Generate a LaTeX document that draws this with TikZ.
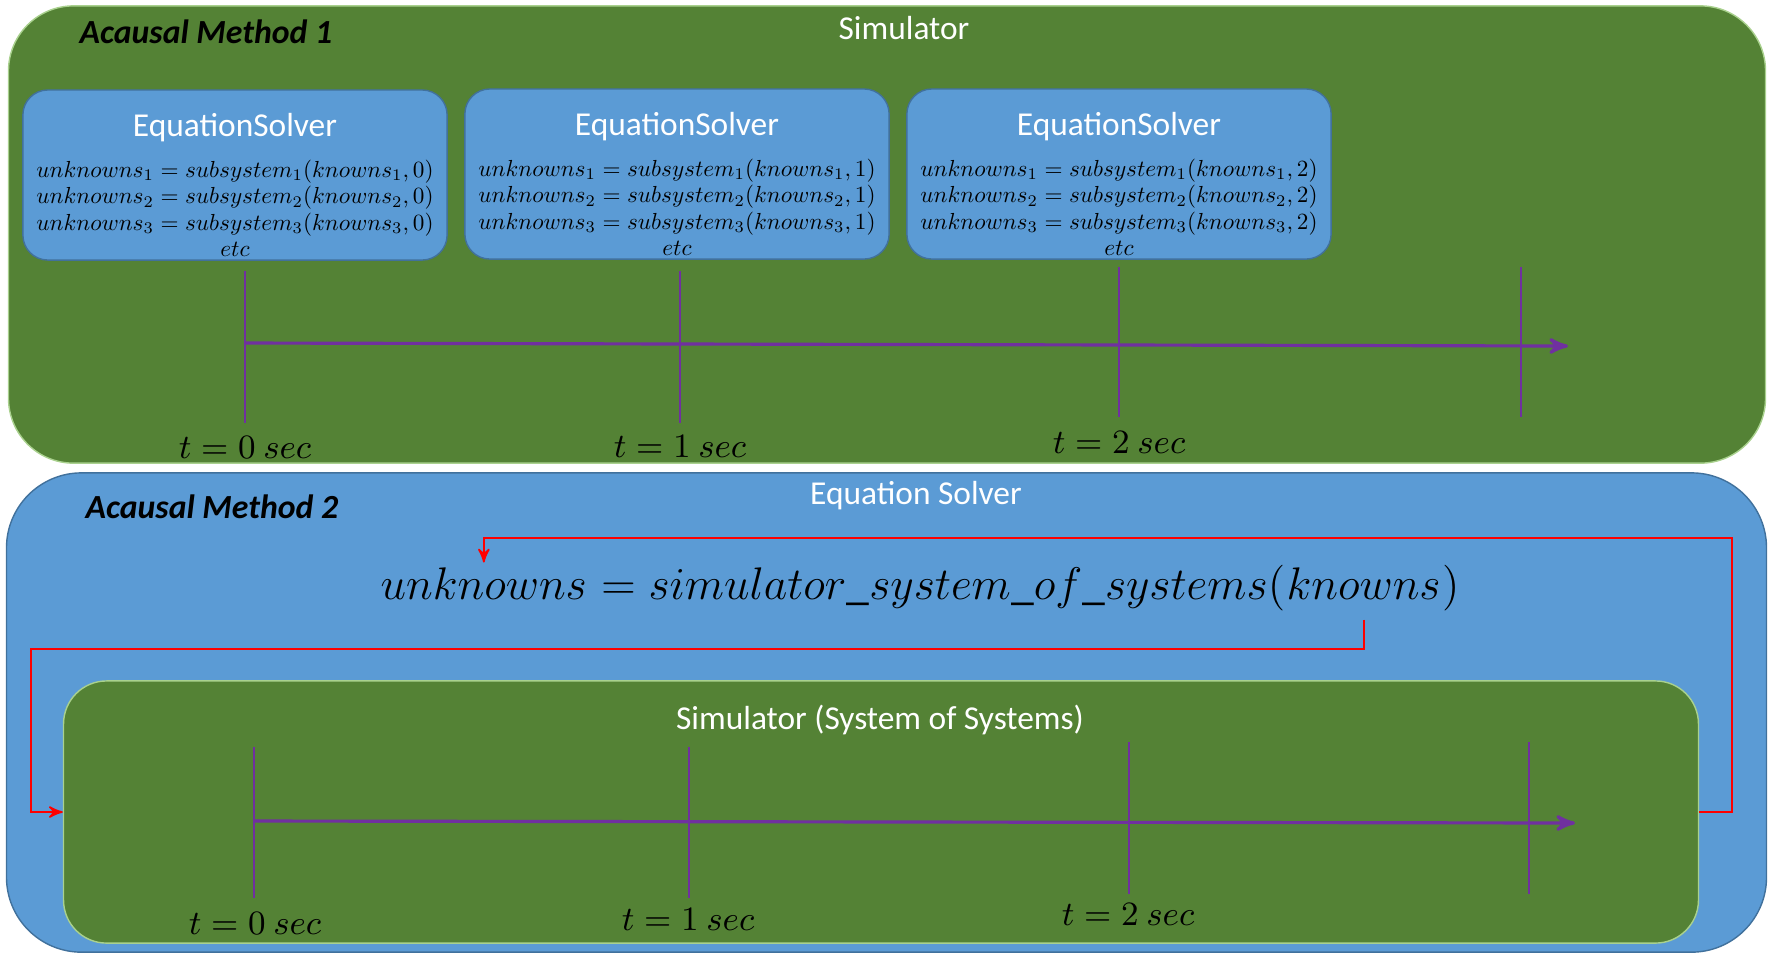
\RequirePackage{fix-cm}
\documentclass[tikz,border=0pt]{standalone}
\usepackage{fontspec}
\setmainfont{Carlito}
\usetikzlibrary{arrows,positioning}

\definecolor{simgreen}{HTML}{548235}
\definecolor{edgegreen}{HTML}{A9D18E}
\definecolor{solveblue}{HTML}{5B9BD5}
\definecolor{edgeblue}{HTML}{41719C}
\definecolor{timepurple}{HTML}{7030A0}

\begin{document}
\begin{tikzpicture}[x=0.01cm,y=-0.01cm,>=stealth',
    panel/.style={rounded corners=0.65cm,inner sep=0pt},
    solver/.style={draw=edgeblue,fill=solveblue,rounded corners=0.25cm,minimum width=4.24cm,minimum height=1.7cm,inner sep=0pt},
    heading/.style={text=white,font=\fontsize{9.5}{11}\selectfont,inner sep=0pt},
    method/.style={font=\fontsize{9.6}{12}\selectfont\bfseries\itshape,anchor=west,inner sep=0pt},
    subeq/.style={font=\fontsize{10}{11.4}\selectfont,inner sep=0pt},
    stamp/.style={font=\fontsize{9.7}{12}\selectfont,inner sep=0pt},
    bigeq/.style={font=\fontsize{13}{15}\selectfont,inner sep=0pt,anchor=base west},
    timeaxis/.style={timepurple,line width=0.9pt},
    timetick/.style={timepurple,line width=0.5pt},
    feedback/.style={red,line width=0.5pt}
]
\useasboundingbox (0,0) rectangle (1769,953);

% method 1
\node[panel,fill=simgreen,draw=edgegreen,minimum width=17.56cm,minimum height=4.57cm] (sim) at (887,234.5) {};
\node[method] at (79,32) {Acausal Method 1};
\node[heading] at (904,28) {Simulator};

\node[solver] (es0) at (235,175) {};
\node[heading,below=0.23cm of es0.north] (es0t) {EquationSolver};
\node[subeq,below=0.16cm of es0t] (es0q) {\scalebox{0.66}{\begin{tabular}{@{}c@{}}$unknowns_1 = subsystem_1(knowns_1,0)$\\ $unknowns_2 = subsystem_2(knowns_2,0)$\\ $unknowns_3 = subsystem_3(knowns_3,0)$\\ $etc$\end{tabular}}};

\node[solver] (es1) at (677,174) {};
\node[heading,below=0.23cm of es1.north] (es1t) {EquationSolver};
\node[subeq,below=0.16cm of es1t] (es1q) {\scalebox{0.66}{\begin{tabular}{@{}c@{}}$unknowns_1 = subsystem_1(knowns_1,1)$\\ $unknowns_2 = subsystem_2(knowns_2,1)$\\ $unknowns_3 = subsystem_3(knowns_3,1)$\\ $etc$\end{tabular}}};

\node[solver] (es2) at (1119,174) {};
\node[heading,below=0.23cm of es2.north] (es2t) {EquationSolver};
\node[subeq,below=0.16cm of es2t] (es2q) {\scalebox{0.66}{\begin{tabular}{@{}c@{}}$unknowns_1 = subsystem_1(knowns_1,2)$\\ $unknowns_2 = subsystem_2(knowns_2,2)$\\ $unknowns_3 = subsystem_3(knowns_3,2)$\\ $etc$\end{tabular}}};

\draw[timeaxis,->] (246,343) -- (1568,346);
\draw[timetick] (245,271) -- (245,423) (680,271) -- (680,423) (1119,267) -- (1119,417) (1521,267) -- (1521,417);
\node[stamp] at (245,447) {$t = 0\ sec$};
\node[stamp] at (680,446) {$t = 1\ sec$};
\node[stamp] at (1119,442) {$t = 2\ sec$};

% method 2
\node[panel,rounded corners=0.75cm,fill=solveblue,draw=edgeblue,minimum width=17.59cm,minimum height=4.79cm] (solve) at (886.5,712.5) {};
\node[method] at (85,507) {Acausal Method 2};
\node[heading] at (916,496) {Equation Solver};

\node[bigeq] (unk) at (380,599) {$unknowns$};
\node[bigeq] (fn) at (unk.base east) {${}={}simulator\_system\_of\_systems($};
\node[bigeq] (kn) at (fn.base east) {$knowns$};
\node[bigeq] (cp) at (kn.base east) {$)$};

\node[panel,rounded corners=0.43cm,fill=simgreen,draw=edgegreen,minimum width=16.34cm,minimum height=2.62cm] (sos) at (881,812) {};
\node[heading] at (880,720) {Simulator (System of Systems)};

\draw[feedback,->] (sos.east) -| (1732,538) -| ([yshift=0.04cm]unk.north);
\draw[feedback,->] ([yshift=-0.2cm]kn.south) |- (31,649) |- (sos.west);

\draw[timeaxis,->] (255,821) -- (1575,823);
\draw[timetick] (254,747) -- (254,898) (689,747) -- (689,898) (1129,742) -- (1129,894) (1529,742) -- (1529,894);
\node[stamp] at (255,923) {$t = 0\ sec$};
\node[stamp] at (688,919) {$t = 1\ sec$};
\node[stamp] at (1128,914) {$t = 2\ sec$};
\end{tikzpicture}
\end{document}
